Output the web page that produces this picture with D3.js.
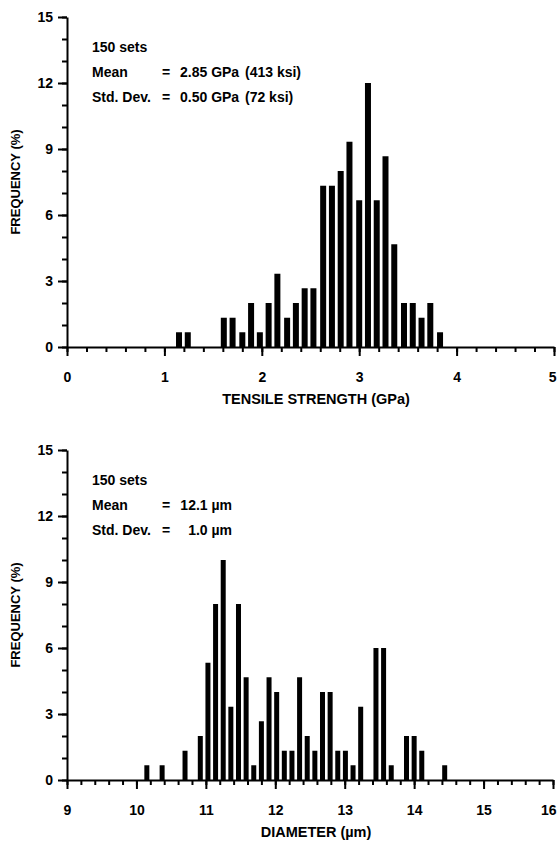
<!DOCTYPE html>
<html>
<head>
<meta charset="utf-8">
<script src="https://cdn.jsdelivr.net/npm/d3@7"></script>
<style>
  body { margin: 0; background: #fff; }
  svg { display: block; font-family: "Liberation Sans", Arial, Helvetica, sans-serif; font-weight: bold; }
</style>
</head>
<body>
<svg id="chart" width="557" height="846"></svg>
<script>
// Histogram data (frequency in % of 150 sets)
const tensileBins = [1.15, 1.24, 1.61, 1.70, 1.80, 1.89, 1.98, 2.07, 2.16, 2.26, 2.35, 2.44, 2.53,
  2.63, 2.72, 2.81, 2.90, 3.00, 3.09, 3.18, 3.27, 3.36, 3.46, 3.55, 3.64, 3.73, 3.83];
const tensileFreq = [0.67, 0.67, 1.33, 1.33, 0.67, 2.0, 0.67, 2.0, 3.33, 1.33, 2.0, 2.67, 2.67,
  7.33, 7.33, 8.0, 9.33, 6.67, 12.0, 6.67, 8.67, 4.67, 2.0, 2.0, 1.33, 2.0, 0.67];

const diameterBins = [10.15, 10.37, 10.70, 10.92, 11.03, 11.14, 11.25, 11.36, 11.47, 11.58, 11.69,
  11.80, 11.91, 12.02, 12.13, 12.24, 12.35, 12.46, 12.57, 12.68, 12.79, 12.90, 13.01, 13.12, 13.23,
  13.45, 13.56, 13.67, 13.89, 14.00, 14.11, 14.44];
const diameterFreq = [0.67, 0.67, 1.33, 2.0, 5.33, 8.0, 10.0, 3.33, 8.0, 4.67, 0.67, 2.67, 4.67,
  4.0, 1.33, 1.33, 4.67, 2.0, 1.33, 4.0, 4.0, 1.33, 1.33, 0.67, 3.33, 6.0, 6.0, 0.67, 2.0, 2.0,
  1.33, 0.67];

const freqTicks = [0, 3, 6, 9, 12, 15];
const tensileTicks = [0, 1, 2, 3, 4, 5];
const diameterTicks = [9, 10, 11, 12, 13, 14, 15, 16];

const tensileNotes = [
  ['150 sets'],
  ['Mean', '=', '2.85 GPa', '(413 ksi)'],
  ['Std. Dev.', '=', '0.50 GPa', '(72 ksi)']
];
const diameterNotes = [
  ['150 sets'],
  ['Mean', '=', '12.1 \u00b5m'],
  ['Std. Dev.', '=', '1.0 \u00b5m']
];

const svg = d3.select('#chart');
const W = 557;

function drawPanel(p) {
  const x = d3.scaleLinear().domain(p.xDomain).range([67, p.xRight]);
  const y = d3.scaleLinear().domain([0, 15]).range([p.y0, p.y0 - 330]);
  const g = svg.append('g');

  // bars
  g.selectAll('rect.bar')
    .data(p.bins.map((b, i) => ({ b, f: p.freq[i] })))
    .enter().append('rect')
    .attr('class', 'bar')
    .attr('x', d => x(d.b) - p.barW / 2)
    .attr('width', p.barW)
    .attr('y', d => y(d.f))
    .attr('height', d => y(0) - y(d.f))
    .attr('fill', '#000');

  // minor ticks
  const minorX = d3.range(p.xDomain[0], p.xDomain[1] + 0.001, 0.2).map(v => +v.toFixed(1));
  g.append('g')
    .attr('transform', `translate(0,${p.y0})`)
    .call(d3.axisBottom(x).tickValues(minorX).tickSize(5).tickFormat(''))
    .call(a => a.select('.domain').remove());
  g.append('g')
    .attr('transform', 'translate(67,0)')
    .call(d3.axisLeft(y).tickValues(d3.range(0, 16)).tickSize(5).tickFormat(''))
    .call(a => a.select('.domain').remove());

  // major axes
  const xAxis = g.append('g')
    .attr('transform', `translate(0,${p.y0})`)
    .call(d3.axisBottom(x).tickValues(p.xTicks).tickFormat(d3.format('d'))
      .tickSize(9).tickSizeOuter(0).tickPadding(16));
  const yAxis = g.append('g')
    .attr('transform', 'translate(67,0)')
    .call(d3.axisLeft(y).tickValues(freqTicks).tickFormat(d3.format('d'))
      .tickSize(9).tickSizeOuter(0).tickPadding(5));

  g.selectAll('.tick line').attr('stroke', '#000').attr('stroke-width', 2);
  [xAxis, yAxis].forEach(a => {
    a.attr('font-family', null).attr('font-size', null);
    a.select('.domain').attr('stroke', '#000').attr('stroke-width', 2);
    a.selectAll('text').attr('fill', '#000').attr('font-size', 14);
  });

  // keep the last x label inside the page
  xAxis.selectAll('.tick text')
    .filter(d => d === p.xTicks[p.xTicks.length - 1])
    .attr('text-anchor', 'end')
    .attr('dx', W - 1 - p.xRight);

  // axis titles
  g.append('text')
    .attr('x', 316).attr('y', p.y0 + 57)
    .attr('text-anchor', 'middle')
    .attr('font-size', 14.5)
    .text(p.xTitle);
  g.append('text')
    .attr('transform', `translate(20,${p.y0 - 165}) rotate(-90)`)
    .attr('text-anchor', 'middle')
    .attr('font-size', 13)
    .text('FREQUENCY (%)');

  // statistics block
  p.notes.forEach((row, i) => {
    row.forEach((t, j) => {
      g.append('text')
        .attr('x', p.noteX[j])
        .attr('y', p.noteY + i * 25)
        .attr('text-anchor', p.noteAnchor[j])
        .attr('font-size', 14)
        .text(t);
    });
  });
}

drawPanel({
  y0: 347, xDomain: [0, 5], xRight: 554, xTicks: tensileTicks,
  bins: tensileBins, freq: tensileFreq, barW: 6,
  xTitle: 'TENSILE STRENGTH (GPa)',
  notes: tensileNotes, noteY: 52,
  noteX: [92, 162, 180, 245], noteAnchor: ['start', 'start', 'start', 'start']
});

drawPanel({
  y0: 780, xDomain: [9, 16], xRight: 553, xTicks: diameterTicks,
  bins: diameterBins, freq: diameterFreq, barW: 5,
  xTitle: 'DIAMETER (\u00b5m)',
  notes: diameterNotes, noteY: 485,
  noteX: [92, 162, 232], noteAnchor: ['start', 'start', 'end']
});
</script>
</body>
</html>
